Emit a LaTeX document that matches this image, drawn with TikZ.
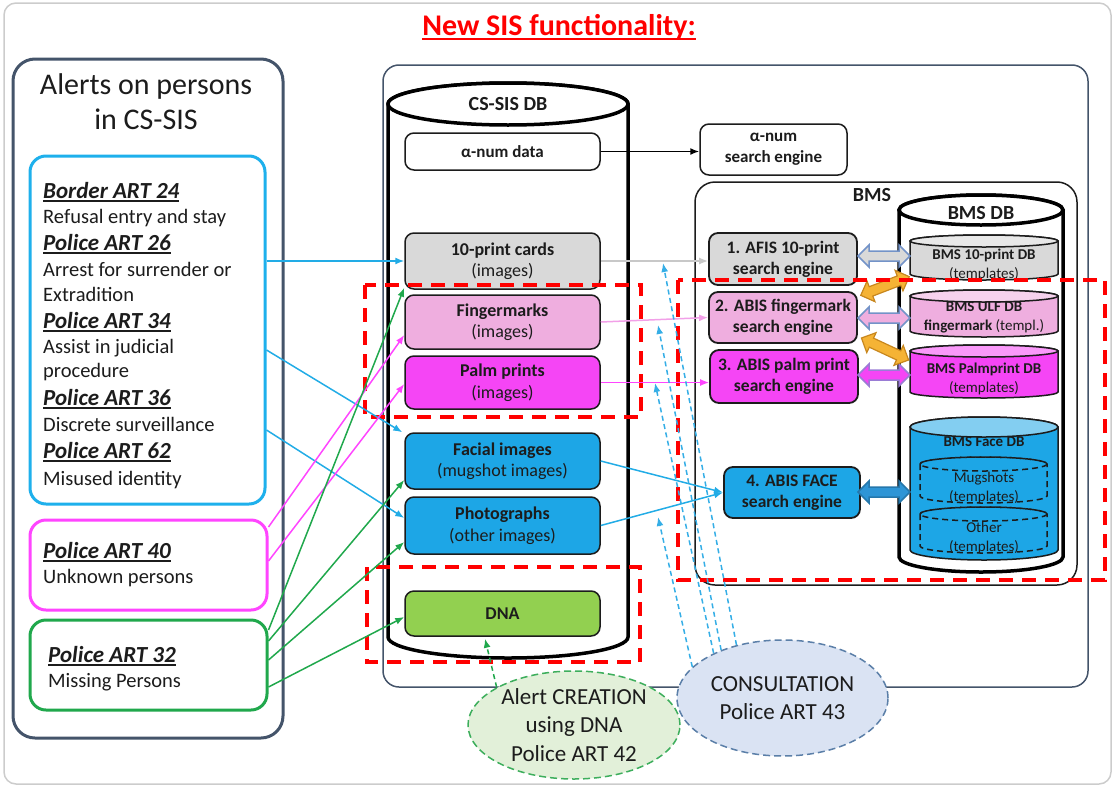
\documentclass[tikz,border=0pt]{standalone}
\usepackage{fontspec}
\setmainfont{Carlito}
\usetikzlibrary{arrows.meta,shapes.geometric}

\definecolor{slate}{HTML}{44546A}
\definecolor{inkdark}{HTML}{1C1C1C}
\definecolor{skyline}{HTML}{22ACE6}
\definecolor{skyborder}{HTML}{1EB0EC}
\definecolor{skyfill}{HTML}{1DA6E6}
\definecolor{pinkfill}{HTML}{EFAEDF}
\definecolor{pinkline}{HTML}{F2A0E8}
\definecolor{magfill}{HTML}{F545F5}
\definecolor{magline}{HTML}{FF45FF}
\definecolor{greenline}{HTML}{20A84C}
\definecolor{dnafill}{HTML}{92D050}
\definecolor{greyfill}{HTML}{D9D9D9}
\definecolor{greyline}{HTML}{C8C8C8}
\definecolor{orangefill}{HTML}{F5B335}
\definecolor{orangeline}{HTML}{C8871E}
\definecolor{linkblue}{HTML}{7393C8}
\definecolor{faceblue}{HTML}{2E95D6}
\definecolor{dnaellipse}{HTML}{E2F0D9}
\definecolor{dnaedge}{HTML}{3DAE5C}
\definecolor{consfill}{HTML}{DAE3F3}
\definecolor{consedge}{HTML}{5B7FA8}
\definecolor{consarrow}{HTML}{35AEE6}

\newcommand\fs[2]{\fontsize{#1}{#2}\selectfont}
% thick underline under a piece of text
\newcommand\thickul[1]{\setbox0\hbox{#1}\leavevmode\rlap{\vrule height -0.09em depth 0.16em width \wd0}\box0}
% database drum: left x, right x, lid centre y, base centre y, rim half-height, body style, lid fill
\newcommand\drum[7]{%
  \pgfmathsetmacro\drumrx{(#2-#1)/2}%
  \pgfmathsetmacro\drumcx{(#2+#1)/2}%
  \path[#6] (#1,#3) -- (#1,#4) arc[start angle=180,end angle=0,x radius=\drumrx,y radius=#5]
     -- (#2,#3) arc[start angle=0,end angle=-180,x radius=\drumrx,y radius=#5] -- cycle;
  \path[#6,fill=#7] (\drumcx,#3) ellipse[x radius=\drumrx,y radius=#5];
}

\tikzset{
  fatarrow/.pic={\path[pic actions] (-26,0) -- (-15,-11) -- (-15,-5) -- (15,-5) -- (15,-11) -- (26,0)
      -- (15,11) -- (15,5) -- (-15,5) -- (-15,11) -- cycle;},
  head/.style={anchor=base west, inner sep=0pt, font=\bfseries\itshape\fs{23}{26}, text=inkdark},
  body/.style={anchor=base west, inner sep=0pt, font=\fs{20.5}{24}, text=inkdark},
  sisbox/.style={draw=inkdark, line width=1.5pt, rounded corners=9pt, minimum width=195pt,
      inner sep=0pt, align=center, font=\fs{18}{21.5}, text=inkdark},
  engine/.style={draw=inkdark, line width=1.8pt, rounded corners=9pt, inner sep=0pt,
      align=center, font=\bfseries\fs{17.5}{21}, text=inkdark},
  dblabel/.style={inner sep=0pt, align=center, font=\fs{15}{19}, text=inkdark},
  link/.style={line width=1.5pt, -{Latex[length=9pt,width=7pt]}},
  conslink/.style={draw=consarrow, line width=1.5pt, dash pattern=on 5pt off 3.5pt,
      -{Latex[length=9pt,width=7pt]}},
  reddash/.style={draw=red, line width=3.5pt, dash pattern=on 14pt off 9pt},
  groupbox/.style={line width=3pt, rounded corners=16pt, inner sep=0pt, fill=white},
  usecase/.style={ellipse, line width=1.5pt, dash pattern=on 7pt off 4pt, inner sep=0pt,
      align=center, text=inkdark},
  innerdash/.style={draw=inkdark, line width=1.5pt, dash pattern=on 6pt off 4pt},
}

\begin{document}
\begin{tikzpicture}[x=1pt,y=-1pt]
\useasboundingbox (0,0) rectangle (1115,787);

% page frame and heading
\node[draw=gray!40, line width=1.5pt, rounded corners=12pt, minimum width=1107pt,
      minimum height=781pt, inner sep=0pt] (page) at (557.5,393.5) {};
\node[text=red, font=\bfseries\fs{30}{34}, inner sep=0pt] (title) at (559,27)
      {\thickul{New SIS functionality:}};

% alert categories
\node[draw=slate, groupbox, rounded corners=22pt, minimum width=270pt, minimum height=679pt]
      (alerts) at (148,398.5) {};
\node[anchor=base, inner sep=0pt, font=\fs{30}{36}, text=inkdark] (alertsA) at (146,94) {Alerts on persons};
\node[anchor=base, inner sep=0pt, font=\fs{30}{36}, text=inkdark] (alertsB) at (146,129) {in CS-SIS};

\node[draw=skyborder, groupbox, minimum width=235pt, minimum height=348pt] (bluebox) at (147.5,330) {};
\node[draw=magline, groupbox, minimum width=237pt, minimum height=90pt] (magbox) at (148.5,565) {};
\node[draw=greenline, groupbox, minimum width=237pt, minimum height=90pt] (greenbox) at (148.5,665) {};

\node[head] (h24) at (43,198) {\thickul{Border ART 24}};
\node[body] (t24) at (43,223) {Refusal entry and stay};
\node[head] (h26) at (43,250) {\thickul{Police ART 26}};
\node[body] (t26a) at (43,276) {Arrest for surrender or};
\node[body] (t26b) at (43,301) {Extradition};
\node[head] (h34) at (43,328) {\thickul{Police ART 34}};
\node[body] (t34a) at (43,353) {Assist in judicial};
\node[body] (t34b) at (43,377) {procedure};
\node[head] (h36) at (43,405) {\thickul{Police ART 36}};
\node[body] (t36) at (43,431) {Discrete surveillance};
\node[head] (h62) at (43,458) {\thickul{Police ART 62}};
\node[body] (t62) at (43,485) {Misused identity};
\node[head] (h40) at (43,558) {\thickul{Police ART 40}};
\node[body] (t40) at (43,583) {Unknown persons};
\node[head] (h32) at (48,662) {\thickul{Police ART 32}};
\node[body] (t32) at (48,687) {Missing Persons};

% system frame
\node[draw=slate, line width=1.5pt, rounded corners=16pt, minimum width=705pt, minimum height=622pt,
      inner sep=0pt] (sysframe) at (735.5,376) {};

% CS-SIS database
\drum{388}{628}{104}{637}{21}{draw=black,line width=3.5pt,fill=white}{white}
\node[inner sep=0pt, font=\bfseries\fs{20}{24}, text=inkdark] (cssis) at (508,104) {CS-SIS DB};

\node[sisbox, fill=white, minimum height=37pt, font=\bfseries\fs{17}{20}] (alpha) at (502.5,151.5) {α-num data};
\node[sisbox, fill=greyfill, minimum height=56pt] (tenp) at (502.5,261) {{\bfseries 10-print cards}\\(images)};
\node[sisbox, fill=pinkfill, minimum height=54pt] (fing) at (502.5,322) {{\bfseries Fingermarks}\\(images)};
\node[sisbox, fill=magfill, minimum height=53pt] (palm) at (502.5,382.5) {{\bfseries Palm prints}\\(images)};
\node[sisbox, fill=skyfill, minimum height=56pt] (facial) at (502.5,461) {{\bfseries Facial images}\\(mugshot images)};
\node[sisbox, fill=skyfill, minimum height=57pt] (photo) at (502.5,525.5) {{\bfseries Photographs}\\(other images)};
\node[sisbox, fill=dnafill, minimum height=45pt, font=\bfseries\fs{18}{21}] (dna) at (502.5,613.5) {DNA};

% alphanumeric search engine
\node[sisbox, fill=white, minimum width=147pt, minimum height=51pt, font=\bfseries\fs{17}{21}]
      (alphase) at (773.5,149.5) {α-num\\search engine};

% biometric matching system
\node[draw=inkdark, line width=1.5pt, rounded corners=20pt, minimum width=382pt, minimum height=403pt,
      inner sep=0pt] (bms) at (886,383.5) {};
\node[inner sep=0pt, font=\bfseries\fs{20}{24}, text=inkdark] (bmslabel) at (872,195) {BMS};

\drum{899}{1063}{210}{557}{15}{draw=black,line width=3.5pt,fill=white}{white}
\node[inner sep=0pt, font=\bfseries\fs{20}{24}, text=inkdark] (bmsdb) at (981,213) {BMS DB};

\drum{910}{1058}{241}{274}{6}{draw=inkdark,line width=1.5pt,fill=greyfill}{greyfill!60!white}
\drum{910}{1058}{296}{331}{6}{draw=inkdark,line width=1.5pt,fill=pinkfill}{pinkfill!55!white}
\drum{910}{1058}{351}{392}{6}{draw=inkdark,line width=1.5pt,fill=magfill}{magfill!55!white}
\drum{910}{1058}{427}{550}{10}{draw=inkdark,line width=1.5pt,fill=skyfill}{skyfill!55!white}
\drum{920}{1047}{464}{496}{7}{innerdash}{none}
\drum{920}{1047}{514}{546}{7}{innerdash}{none}

\node[dblabel] (db10) at (984,265) {{\bfseries BMS 10-print DB}\\(templates)};
\node[dblabel] (dbulf) at (984,317.5) {{\bfseries BMS ULF DB}\\{\bfseries fingermark} (templ.)};
\node[dblabel] (dbpalm) at (984,378.5) {{\bfseries BMS Palmprint DB}\\(templates)};
\node[dblabel, font=\bfseries\fs{15}{19}] (dbface) at (984,442) {BMS Face DB};
\node[dblabel] (dbmug) at (984,487.5) {Mugshots\\(templates)};
\node[dblabel] (dbother) at (984,538) {Other\\(templates)};

% search engines
\node[engine, fill=greyfill, minimum width=148pt, minimum height=52pt] (afis) at (783,259) {1. AFIS 10-print\\search engine};
\node[engine, fill=pinkfill, minimum width=148pt, minimum height=51pt] (abis2) at (783,317.5) {2. ABIS fingermark\\search engine};
\node[engine, fill=magfill, minimum width=148pt, minimum height=53pt] (abis3) at (784,376.5) {3. ABIS palm print\\search engine};
\node[engine, fill=skyfill, minimum width=136pt, minimum height=51pt] (abis4) at (792,492.5) {4. ABIS FACE\\search engine};

% engine <-> template store exchanges
\pic[fill=greyfill, draw=linkblue, line width=1.5pt] at (884,256) {fatarrow};
\pic[fill=pinkfill, draw=linkblue, line width=1.5pt] at (884,318) {fatarrow};
\pic[fill=magfill, draw=linkblue!70!magfill, line width=1.5pt] at (884,375) {fatarrow};
\pic[fill=faceblue, draw=faceblue!80!black, line width=1.5pt] at (884,492) {fatarrow};
\pic[rotate=21, fill=orangefill, draw=orangeline, line width=1.2pt] at (885,286) {fatarrow};
\pic[rotate=-25, fill=orangefill, draw=orangeline, line width=1.2pt] at (885,349) {fatarrow};

% new functionality regions
\draw[reddash] (365,285) rectangle (641,417);
\draw[reddash] (367,567) rectangle (640,662);
\draw[reddash] (678,280) rectangle (1105,580);

% alerts feeding the CS-SIS records
\draw[link, skyline] (bluebox.east |- tenp.west) -- (tenp.west);
\draw[link, skyline] (bluebox.east |- 0,350) -- ([xshift=-2pt]facial.north west);
\draw[link, skyline] (bluebox.east |- 0,430) -- (photo.west |- 0,518);
\draw[link, magline] (magbox.east |- 0,527) -- (fing.west |- 0,335);
\draw[link, magline] (magbox.east |- 0,561) -- (palm.west |- 0,384);
\draw[link, greenline] (greenbox.east |- 0,630) -- ([yshift=2pt]tenp.south west);
\draw[link, greenline] (greenbox.east |- 0,641) -- (facial.west |- 0,480);
\draw[link, greenline] (greenbox.east |- 0,660) -- (photo.west |- 0,542);
\draw[link, greenline] (greenbox.east |- 0,687) -- (dna.west |- 0,617);

% records to search engines
\draw[link, black] (alpha.east) -- (alpha.east -| alphase.west);
\draw[link, greyline] (tenp.east) -- (tenp.east -| afis.west);
\draw[link, pinkline] (fing.east) -- (abis2.west);
\draw[link, magline] (palm.east) -- (palm.east -| abis3.west);
\draw[link, skyline] (facial.east) -- (abis4.west);
\draw[link, skyline] (photo.east) -- (abis4.west);

% use cases
\node[usecase, draw=dnaedge, fill=dnaellipse, minimum width=212pt, minimum height=108pt,
      font=\fs{23}{28.5}] (alertdna) at (574,725) {Alert CREATION\\using DNA\\Police ART 42};
\node[usecase, draw=consedge, fill=consfill, minimum width=211pt, minimum height=116pt,
      font=\fs{23}{28}] (consult) at (782.5,698) {CONSULTATION\\Police ART 43};

\draw[link, greenline, dash pattern=on 5pt off 3.5pt] (alertdna.154) -- ([xshift=-17.5pt,yshift=-2pt]dna.south);

\coordinate (ct1) at (663,263);
\coordinate (ct2) at (658,325);
\coordinate (ct3) at (655,383);
\coordinate (ct4) at (658,517);
\draw[conslink] (consult.131) -- (ct1);
\draw[conslink] (consult.142) -- (ct2);
\draw[conslink] (consult.147) -- (ct3);
\draw[conslink] (consult.161) -- (ct4);
\end{tikzpicture}
\end{document}
